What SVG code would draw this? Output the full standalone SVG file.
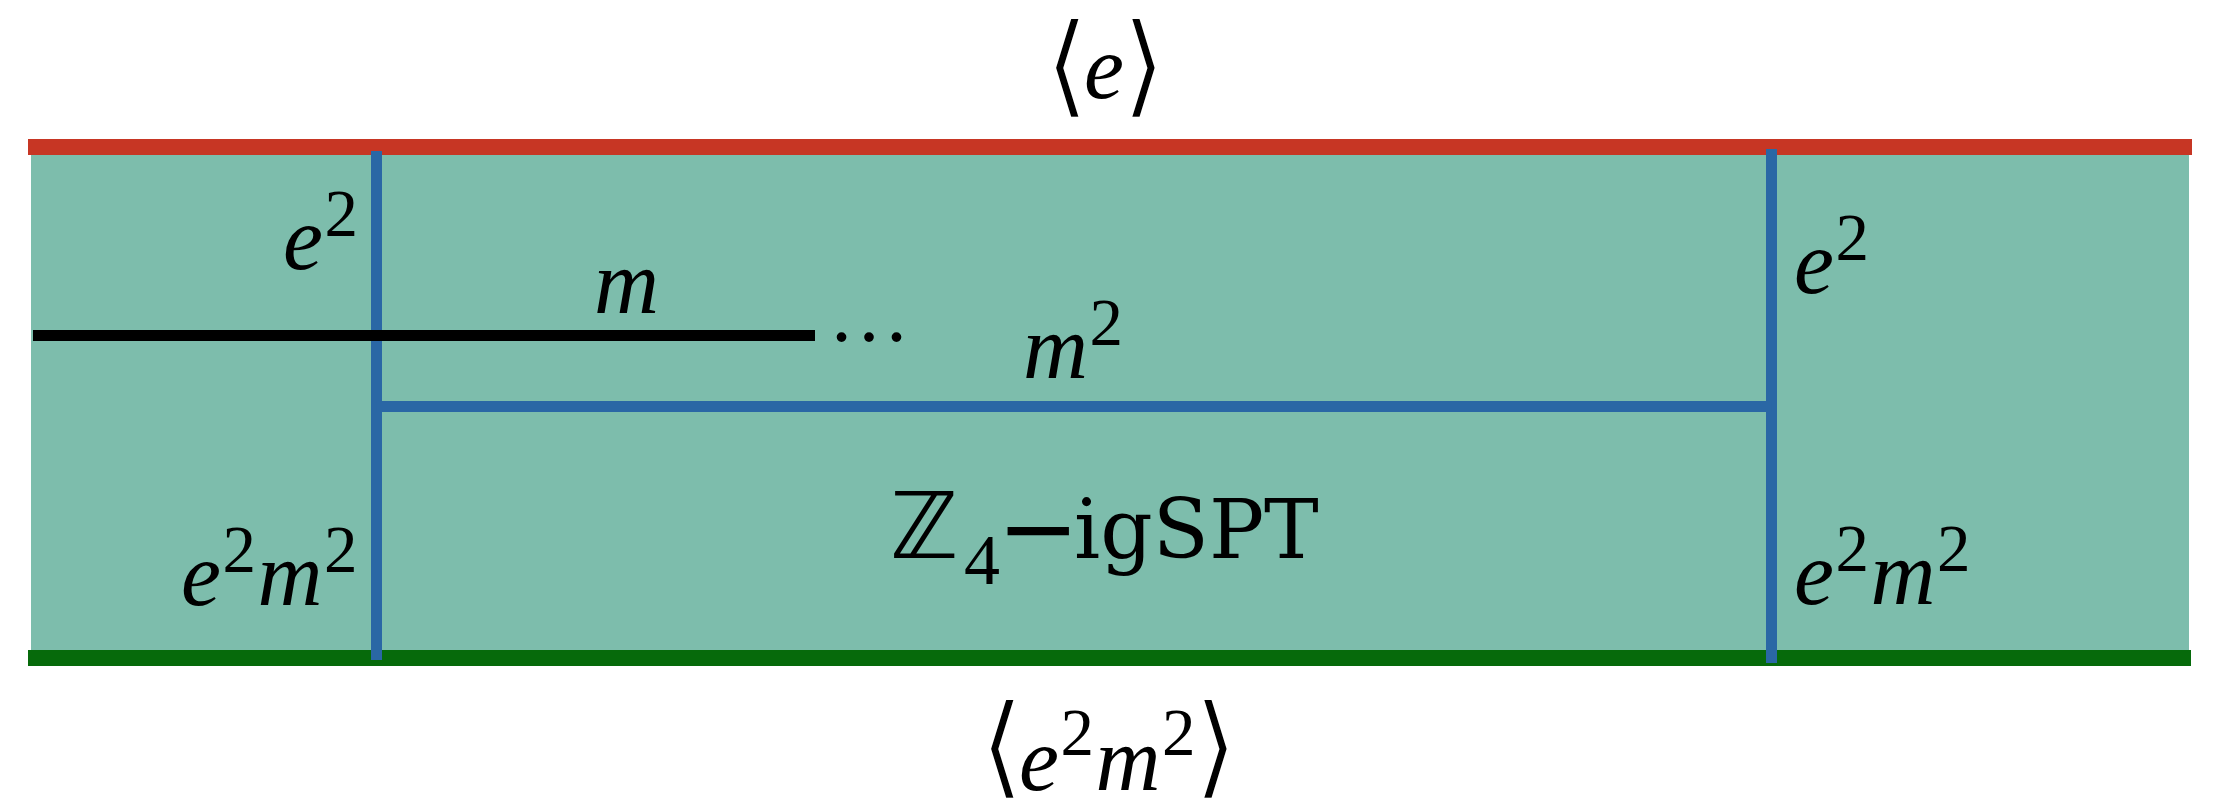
<svg xmlns="http://www.w3.org/2000/svg" width="2232" height="808" viewBox="0 0 2232 808">
<style>
.math{font-family:"Liberation Serif","Times New Roman",serif;font-style:italic;font-size:90px;fill:#000;letter-spacing:1.5px}
.sup{font-style:normal;font-size:67px}
.br{font-family:"DejaVu Sans",sans-serif;font-style:normal;font-size:112px;fill:#000;letter-spacing:0;stroke:#fff;stroke-width:2px}
.tt{font-family:"DejaVu Serif",serif;font-size:82px;fill:#000}
.blue{stroke:#2A67A5;stroke-width:11;fill:none}
</style>
<rect id="bulk" x="31" y="154" width="2158" height="498" fill="#7DBDAC"/>
<g id="boundaries">
<rect id="top-boundary" x="28" y="139" width="2164" height="16" fill="#C73624"/>
<rect id="bottom-boundary" x="28" y="650" width="2163" height="16" fill="#066A0B"/>
</g>
<g id="connectors">
<line class="blue" x1="376.5" y1="151" x2="376.5" y2="660"/>
<line class="blue" x1="1771.5" y1="149" x2="1771.5" y2="663"/>
<line class="blue" x1="376.5" y1="406.5" x2="1771.5" y2="406.5"/>
<line x1="33" y1="335.5" x2="815" y2="335.5" stroke="#000" stroke-width="11"/>
<text x="828" y="341" font-family="Liberation Serif, serif" font-size="82">…</text>
</g>
<g id="labels">
<g id="label-top"><text class="math" y="98"><tspan class="br" x="1045" y="103">⟨</tspan><tspan x="1084" y="98">e</tspan><tspan class="br" x="1122" y="103">⟩</tspan></text></g>
<g id="label-bottom"><text class="math" y="790"><tspan class="br" x="980" y="784">⟨</tspan><tspan x="1019" y="790">e</tspan><tspan class="sup" dy="-35">2</tspan><tspan dy="35">m</tspan><tspan class="sup" dy="-35">2</tspan><tspan class="br" x="1194" y="784">⟩</tspan></text></g>
<g id="label-left-e2"><text class="math" x="283" y="269">e<tspan class="sup" dy="-33">2</tspan></text></g>
<g id="label-m"><text class="math" x="594" y="313">m</text></g>
<g id="label-left-e2m2"><text class="math" x="181" y="605">e<tspan class="sup" dy="-33">2</tspan><tspan dy="33">m</tspan><tspan class="sup" dy="-33">2</tspan></text></g>
<g id="label-right-e2"><text class="math" x="1794" y="293">e<tspan class="sup" dy="-33">2</tspan></text></g>
<g id="label-right-e2m2"><text class="math" x="1794" y="604">e<tspan class="sup" dy="-33">2</tspan><tspan dy="33">m</tspan><tspan class="sup" dy="-33">2</tspan></text></g>
<g id="label-m2"><text class="math" x="1023" y="378">m<tspan class="sup" dy="-33">2</tspan></text></g>
<g id="label-center"><text class="tt" y="558"><tspan x="890" font-family="DejaVu Sans, sans-serif" font-size="92">ℤ</tspan><tspan x="964" y="584" font-family="Liberation Serif, serif" font-size="72">4</tspan><tspan x="997" y="562" font-family="DejaVu Sans, sans-serif" font-size="98">−</tspan><tspan x="1074" y="558">igSPT</tspan></text></g>
</g>
</svg>
